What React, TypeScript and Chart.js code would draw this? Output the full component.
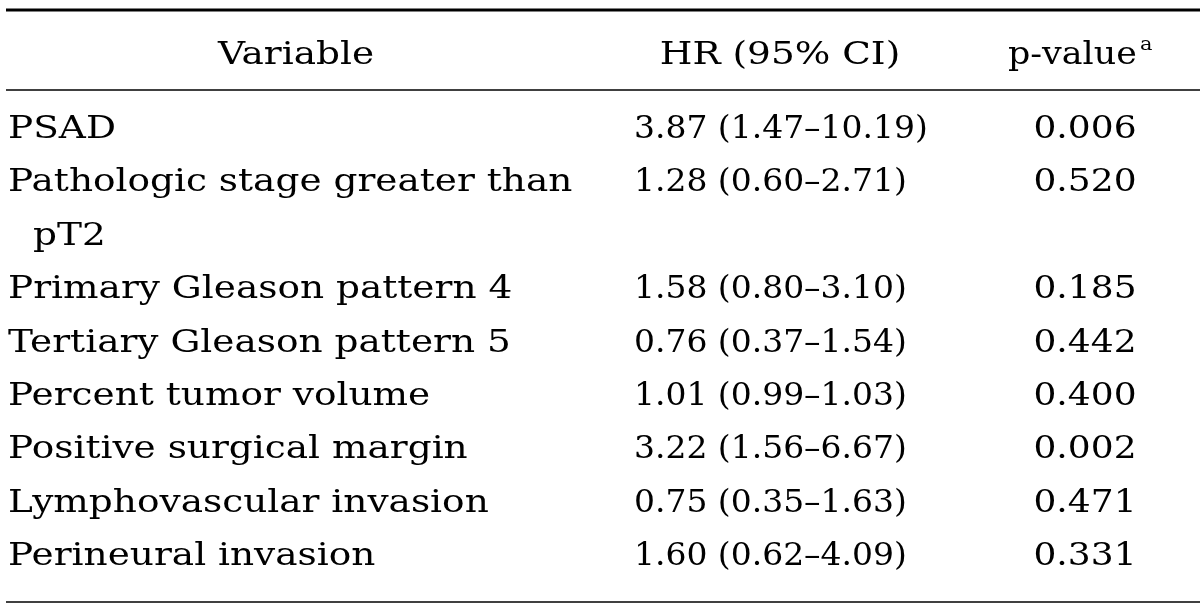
import React, { useEffect, useRef } from "react";
import { Chart, registerables } from "chart.js";

Chart.register(...registerables);

// ---- Data ----
const headers = ["Variable", "HR (95% CI)", "p-value"];
const headerNote = "a";
const variableLines: string[][] = [
  ["PSAD"],
  ["Pathologic stage greater than", "pT2"],
  ["Primary Gleason pattern 4"],
  ["Tertiary Gleason pattern 5"],
  ["Percent tumor volume"],
  ["Positive surgical margin"],
  ["Lymphovascular invasion"],
  ["Perineural invasion"],
];
const hr = [3.87, 1.28, 1.58, 0.76, 1.01, 3.22, 0.75, 1.6];
const ciLow = [1.47, 0.6, 0.8, 0.37, 0.99, 1.56, 0.35, 0.62];
const ciHigh = [10.19, 2.71, 3.1, 1.54, 1.03, 6.67, 1.63, 4.09];
const pValues = [0.006, 0.52, 0.185, 0.442, 0.4, 0.002, 0.471, 0.331];

const FONT = "'DejaVu Serif', serif";
const STRETCH_TEXT = 1.17;
const STRETCH_HR = 1.03;
const STRETCH_P = 1.125;
const STRETCH_PHEAD = 1.09;

const tablePlugin = {
  id: "tablePlugin",
  afterDraw(chart: any) {
    const { ctx, scales } = chart;
    const xs = scales.x;
    const ys = scales.y;
    const X = (v: number) => xs.getPixelForValue(v);
    const Y = (v: number) => ys.getPixelForValue(v);
    ctx.save();
    ctx.fillStyle = "#000";
    ctx.strokeStyle = "#000";
    const rule = (yv: number, w: number) => {
      ctx.lineWidth = w;
      ctx.beginPath();
      ctx.moveTo(X(6), Y(yv));
      ctx.lineTo(X(1200), Y(yv));
      ctx.stroke();
    };
    rule(-2.398, 3);
    rule(-0.899, 1.6);
    rule(8.693, 1.6);

    const size = 32;
    const setFont = (s: number) => (ctx.font = `${s}px ${FONT}`);
    const text = (t: string, x: number, y: number, align: string, sx: number) => {
      const w = ctx.measureText(t).width * sx;
      let left = x;
      if (align === "center") left = x - w / 2;
      else if (align === "right") left = x - w;
      ctx.save();
      ctx.translate(left, y);
      ctx.scale(sx, 1);
      ctx.textAlign = "left";
      ctx.fillText(t, 0, 0);
      ctx.restore();
      return w;
    };
    setFont(size);
    ctx.textBaseline = "alphabetic";
    const hy = Y(-1.386);
    text(headers[0], X(296), hy, "center", STRETCH_TEXT);
    text(headers[1], X(780), hy, "center", STRETCH_TEXT);
    const pw = text(headers[2], X(1008), hy, "left", STRETCH_PHEAD);
    setFont(19);
    text(headerNote, X(1008) + pw + 3, hy - 14, "left", 1.1);
    setFont(size);

    let line = 0;
    variableLines.forEach((lines, i) => {
      const by = Y(line);
      lines.forEach((t, k) => {
        text(t, X(k === 0 ? 8 : 33), Y(line + k), "left", STRETCH_TEXT);
      });
      text(
        `${hr[i].toFixed(2)} (${ciLow[i].toFixed(2)}–${ciHigh[i].toFixed(2)})`,
        X(634),
        by,
        "left",
        STRETCH_HR
      );
      text(pValues[i].toFixed(3), X(1085), by, "center", STRETCH_P);
      line += lines.length;
    });
    ctx.restore();
  },
};

export default function App() {
  const ref = useRef<HTMLCanvasElement | null>(null);
  useEffect(() => {
    document.body.style.margin = "0";
    document.body.style.background = "#fff";
    if (!ref.current) return;
    const chart = new Chart(ref.current, {
      type: "scatter",
      data: { datasets: [{ data: [], pointRadius: 0 }] },
      options: {
        animation: false,
        responsive: false,
        maintainAspectRatio: false,
        layout: { padding: 0 },
        plugins: { legend: { display: false }, tooltip: { enabled: false } },
        scales: {
          x: { type: "linear", min: 0, max: 1200, display: false },
          y: {
            type: "linear",
            reverse: true,
            min: -138 / 53.375,
            max: (613 - 138) / 53.375,
            display: false,
          },
        },
      },
      plugins: [tablePlugin],
    });
    return () => chart.destroy();
  }, []);
  return (
    <div style={{ width: 1200, height: 613, background: "#fff" }}>
      <canvas ref={ref} width={1200} height={613} />
    </div>
  );
}
